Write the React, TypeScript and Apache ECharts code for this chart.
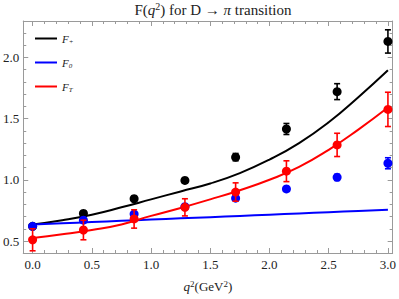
import React, { useEffect, useRef } from "react";
import * as echarts from "echarts";

// Data points (q^2 in GeV^2)
const qSqPoints = [0, 0.429, 0.857, 1.286, 1.714, 2.143, 2.571, 3.0];
const fPlusPoints = [0.62, 0.725, 0.845, 0.995, 1.185, 1.415, 1.72, 2.13];
const fPlusErr = [0.02, 0.02, 0.02, 0.02, 0.03, 0.045, 0.065, 0.095];
const fZeroPoints = [0.62, 0.67, 0.72, 0.78, 0.85, 0.925, 1.02, 1.135];
const fZeroErr = [0.015, 0.015, 0.015, 0.015, 0.015, 0.015, 0.025, 0.045];
const fTPoints = [0.51, 0.59, 0.68, 0.775, 0.9, 1.07, 1.285, 1.575];
const fTErr = [0.09, 0.08, 0.075, 0.07, 0.075, 0.085, 0.095, 0.14];

// Fit curves sampled
const curveQ = [0, 0.25, 0.5, 0.75, 1.0, 1.25, 1.5, 1.75, 2.0, 2.25, 2.5, 2.75, 3.0];
const fPlusCurve = [0.635, 0.67, 0.715, 0.775, 0.84, 0.905, 0.97, 1.055, 1.165, 1.3, 1.47, 1.675, 1.895];
const fZeroCurve = [0.635, 0.645, 0.655, 0.665, 0.675, 0.685, 0.695, 0.705, 0.715, 0.725, 0.735, 0.745, 0.755];
const fTCurve = [0.525, 0.555, 0.59, 0.635, 0.705, 0.77, 0.84, 0.915, 1.0, 1.105, 1.245, 1.41, 1.59];

// Ticks
const xMajor = [0, 0.5, 1.0, 1.5, 2.0, 2.5, 3.0];
const xMinor = [0.1, 0.2, 0.3, 0.4, 0.6, 0.7, 0.8, 0.9, 1.1, 1.2, 1.3, 1.4, 1.6, 1.7, 1.8, 1.9, 2.1, 2.2, 2.3, 2.4, 2.6, 2.7, 2.8, 2.9];
const yMajor = [0.5, 1.0, 1.5, 2.0];
const yMinor = [0.6, 0.7, 0.8, 0.9, 1.1, 1.2, 1.3, 1.4, 1.6, 1.7, 1.8, 1.9, 2.1, 2.2];

const seriesNames = ["F+", "F0", "FT"];
const legendLabels: Record<string, string> = {
  "F+": "{i|F}{sub|+}",
  F0: "{i|F}{sub|0}",
  FT: "{i|F}{sub|T}",
};

const X_MIN = -0.079;
const X_MAX = 3.04;
const Y_MIN = 0.402;
const Y_MAX = 2.297;
const FRAME = "#9a9a9a";
const SERIF = "Liberation Serif, DejaVu Serif, serif";
const TXT = "#222222";

function pair(xs: number[], ys: number[]) {
  return xs.map((x, i) => [x, ys[i]]);
}

function triple(xs: number[], ys: number[], es: number[]) {
  return xs.map((x, i) => [x, ys[i], es[i]]);
}

function errorSeries(name: string, data: number[][], color: string, z: number) {
  return {
    type: "custom",
    name,
    xAxisIndex: 0,
    yAxisIndex: 0,
    z,
    data,
    encode: { x: 0, y: 1 },
    renderItem: (params: any, api: any) => {
      const x = api.value(0);
      const y = api.value(1);
      const e = api.value(2);
      const top = api.coord([x, y + e]);
      const bot = api.coord([x, y - e]);
      const hw = 3;
      const style = { stroke: color, lineWidth: 1.6 };
      return {
        type: "group",
        children: [
          { type: "line", shape: { x1: top[0], y1: top[1], x2: bot[0], y2: bot[1] }, style },
          { type: "line", shape: { x1: top[0] - hw, y1: top[1], x2: top[0] + hw, y2: top[1] }, style },
          { type: "line", shape: { x1: bot[0] - hw, y1: bot[1], x2: bot[0] + hw, y2: bot[1] }, style },
        ],
      };
    },
  };
}

function frameAxis(pos: string, ticks: number[], len: number, isX: boolean, main: boolean) {
  const base: any = {
    type: "value",
    min: isX ? X_MIN : Y_MIN,
    max: isX ? X_MAX : Y_MAX,
    position: pos,
    axisLine: { show: main, onZero: false, lineStyle: { color: FRAME, width: 1 } },
    axisTick: { show: true, inside: true, length: len, customValues: ticks, lineStyle: { color: FRAME, width: 1 } },
    axisLabel: { show: false },
    splitLine: { show: false },
  };
  return base;
}

export default function App() {
  const ref = useRef<HTMLDivElement>(null);

  useEffect(() => {
    document.body.style.margin = "0";
    if (!ref.current) return;
    const chart = echarts.init(ref.current, undefined, { renderer: "svg" });

    const xMain = frameAxis("bottom", xMajor, 5, true, true);
    xMain.axisLabel = {
      show: true,
      customValues: xMajor,
      formatter: (v: number) => v.toFixed(1),
      margin: 5,
      fontFamily: SERIF,
      fontSize: 13,
      color: TXT,
    };
    xMain.name = "{i|q}{sup|2}(GeV{sup|2})";
    xMain.nameLocation = "middle";
    xMain.nameGap = 26;
    xMain.nameTextStyle = {
      fontFamily: SERIF,
      fontSize: 13,
      color: TXT,
      rich: {
        i: { fontFamily: SERIF, fontSize: 13, fontStyle: "italic", color: TXT, lineHeight: 15 },
        sup: { fontFamily: SERIF, fontSize: 9, color: TXT, verticalAlign: "top", lineHeight: 15 },
      },
    };

    const yMain = frameAxis("left", yMajor, 5, false, true);
    yMain.axisLabel = {
      show: true,
      customValues: yMajor,
      formatter: (v: number) => v.toFixed(1),
      margin: 4,
      fontFamily: SERIF,
      fontSize: 13,
      color: TXT,
    };

    const option: any = {
      animation: false,
      backgroundColor: "#ffffff",
      textStyle: { fontFamily: SERIF },
      grid: { left: 19, right: 4, top: 21, bottom: 46, containLabel: false },
      xAxis: [
        xMain,
        frameAxis("bottom", xMinor, 3, true, false),
        frameAxis("top", xMajor, 5, true, true),
        frameAxis("top", xMinor, 3, true, false),
      ],
      yAxis: [
        yMain,
        frameAxis("left", yMinor, 3, false, false),
        frameAxis("right", yMajor, 5, false, true),
        frameAxis("right", yMinor, 3, false, false),
      ],
      legend: {
        data: seriesNames,
        orient: "vertical",
        left: 30,
        top: 28,
        icon: "rect",
        itemWidth: 22,
        itemHeight: 2,
        itemGap: 11.5,
        formatter: (name: string) => legendLabels[name],
        textStyle: {
          fontFamily: SERIF,
          fontSize: 11,
          color: TXT,
          rich: {
            i: { fontFamily: SERIF, fontSize: 11, fontStyle: "italic", color: TXT, lineHeight: 14, verticalAlign: "middle" },
            sub: { fontFamily: SERIF, fontSize: 7, fontStyle: "italic", color: TXT, lineHeight: 9, verticalAlign: "bottom" },
          },
        },
      },
      graphic: [
        {
          type: "text",
          x: 213,
          y: 10,
          style: {
            text: "F({i|q}{sup|2}) for D → {i|π} transition",
            fontFamily: SERIF,
            fontSize: 15,
            fill: TXT,
            align: "center",
            verticalAlign: "middle",
            rich: {
              i: { fontFamily: SERIF, fontSize: 15, fontStyle: "italic", fill: TXT, lineHeight: 17 },
              sup: { fontFamily: SERIF, fontSize: 10, fill: TXT, verticalAlign: "top", lineHeight: 17 },
            },
          },
        },
      ],
      series: [
        {
          type: "line",
          name: "F+",
          data: pair(curveQ, fPlusCurve),
          smooth: true,
          symbol: "none",
          lineStyle: { color: "#000000", width: 2 },
          itemStyle: { color: "#000000" },
          z: 2,
        },
        {
          type: "line",
          name: "F0",
          data: pair(curveQ, fZeroCurve),
          smooth: true,
          symbol: "none",
          lineStyle: { color: "#0000ff", width: 2 },
          itemStyle: { color: "#0000ff" },
          z: 2,
        },
        {
          type: "line",
          name: "FT",
          data: pair(curveQ, fTCurve),
          smooth: true,
          symbol: "none",
          lineStyle: { color: "#ff0000", width: 2 },
          itemStyle: { color: "#ff0000" },
          z: 2,
        },
        errorSeries("F+ err", triple(qSqPoints, fPlusPoints, fPlusErr), "#000000", 3),
        {
          type: "scatter",
          name: "F+ data",
          data: pair(qSqPoints, fPlusPoints),
          symbol: "circle",
          symbolSize: 9,
          itemStyle: { color: "#000000", opacity: 1 },
          z: 3,
        },
        errorSeries("F0 err", triple(qSqPoints, fZeroPoints, fZeroErr), "#0000ff", 4),
        {
          type: "scatter",
          name: "F0 data",
          data: pair(qSqPoints, fZeroPoints),
          symbol: "circle",
          symbolSize: 9,
          itemStyle: { color: "#0000ff", opacity: 1 },
          z: 4,
        },
        errorSeries("FT err", triple(qSqPoints, fTPoints, fTErr), "#ff0000", 5),
        {
          type: "scatter",
          name: "FT data",
          data: pair(qSqPoints, fTPoints),
          symbol: "circle",
          symbolSize: 9,
          itemStyle: { color: "#ff0000", opacity: 1 },
          z: 5,
        },
      ],
    };

    chart.setOption(option);
    return () => chart.dispose();
  }, []);

  return <div ref={ref} style={{ width: 399, height: 299 }} />;
}
